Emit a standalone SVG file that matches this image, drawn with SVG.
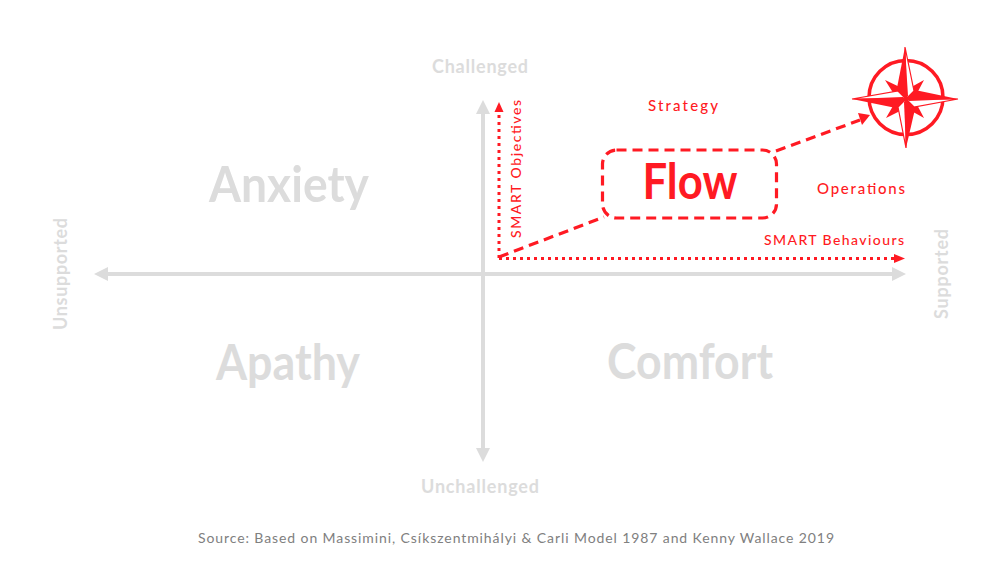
<svg xmlns="http://www.w3.org/2000/svg" width="1000" height="563" viewBox="0 0 1000 563">
<style>
text{font-family:"Lato","Liberation Sans",sans-serif;text-anchor:middle}
.q{fill:#dcdcdc;font-size:50px;font-weight:700}
.a{fill:#dcdcdc;font-size:18px;font-weight:700}
.r{fill:#ff1a23;font-size:15px;font-weight:500}
.s{fill:#ff1a23;font-size:14px;font-weight:500}
.axis{stroke:#dcdcdc;stroke-width:4;fill:none}
.dash{stroke:#ff1a23;stroke-width:3.2;fill:none;stroke-dasharray:10 6}
.dot{stroke:#ff1a23;stroke-width:3;fill:none;stroke-dasharray:3 4}
.fill{fill:#ff1a23}
.thin{fill:#ffffff;stroke:#ff1a23;stroke-width:1.2;stroke-linejoin:miter}
</style>
<rect width="1000" height="563" fill="#ffffff"/>
<g id="connectors">
<path class="axis" d="M104 274H896"/>
<path class="axis" d="M483 110V452"/>
<polygon fill="#dcdcdc" points="94,274 108,267 108,281"/>
<polygon fill="#dcdcdc" points="906,274 892,267 892,281"/>
<polygon fill="#dcdcdc" points="483,100 476,114 490,114"/>
<polygon fill="#dcdcdc" points="483,462 476,448 490,448"/>
<path class="dot" d="M499 258V112"/>
<polygon class="fill" points="499,102 494.500,112 503.500,112"/>
<path class="dot" d="M499 258.500H895"/>
<polygon class="fill" points="905,258.500 894,254 894,263"/>
<path class="dash" d="M499 257L604 217"/>
<path class="dash" d="M776 151L860 120"/>
<polygon class="fill" points="870,115 858,113 862,125"/>
</g>
<g id="flow"><rect class="dash" x="602.500" y="150" width="174" height="68" rx="14"/><text x="690" y="199" fill="#ff1a23" font-size="50" font-weight="700" textLength="95" lengthAdjust="spacingAndGlyphs">Flow</text></g>
<g id="anxiety"><text class="q" x="289" y="202" textLength="160" lengthAdjust="spacingAndGlyphs">Anxiety</text></g>
<g id="apathy"><text class="q" x="288" y="380" textLength="144" lengthAdjust="spacingAndGlyphs">Apathy</text></g>
<g id="comfort"><text class="q" x="690" y="379" textLength="166" lengthAdjust="spacingAndGlyphs">Comfort</text></g>
<g id="challenged"><text class="a" x="480" y="73" textLength="96">Challenged</text></g>
<g id="unchallenged"><text class="a" x="480" y="493" textLength="118">Unchallenged</text></g>
<g id="unsupported"><text class="a" transform="translate(67 274) rotate(-90)" textLength="112">Unsupported</text></g>
<g id="supported"><text class="a" transform="translate(948 274) rotate(-90)" textLength="90">Supported</text></g>
<g id="strategy"><text class="r" x="683" y="111" textLength="70">Strategy</text></g>
<g id="operations"><text class="r" x="861" y="194" textLength="88">Operations</text></g>
<g id="smart-objectives"><text class="s" transform="translate(521 169) rotate(-90)" textLength="138">SMART Objectives</text></g>
<g id="smart-behaviours"><text class="s" x="834" y="245" textLength="140">SMART Behaviours</text></g>
<g id="source"><text x="516" y="543" fill="#808080" font-size="14" textLength="636">Source: Based on Massimini, Csíkszentmihályi &amp; Carli Model 1987 and Kenny Wallace 2019</text></g>
<g id="compass">
<circle cx="906" cy="97.500" r="37" fill="#ffffff" stroke="#ff1a23" stroke-width="3.500"/>
<polygon class="fill" points="885,80 906,90 924,80 914,99 924,118 906,108 886,118 897,99"/>
<polygon class="thin" points="905,47 914,91 906,99"/>
<polygon class="thin" points="958,99 914,107 906,99"/>
<polygon class="thin" points="906,148 898,107 906,99"/>
<polygon class="thin" points="852,99 898,91 906,99"/>
<polygon class="fill" points="905,47 897,88 906,99 908,96"/>
<polygon class="fill" points="958,99 915,90 906,99 909,101"/>
<polygon class="fill" points="906,148 915,109 906,99 904,102"/>
<polygon class="fill" points="852,99 896,108 906,99 903,97"/>
</g>
</svg>
